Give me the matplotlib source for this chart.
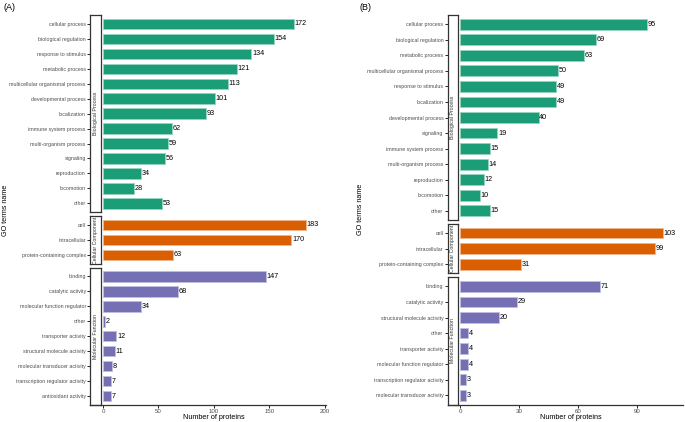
import numpy as np
import matplotlib.pyplot as plt
import matplotlib.colors as mcolors

plt.rcParams['font.family'] = ['Liberation Sans', 'DejaVu Sans']

# ---- data, chart (A)
a_bp_terms = ["cellular process", "biological regulation", "response to stimulus", "metabolic process",
              "multicellular organismal process", "developmental process", "localization",
              "immune system process", "multi-organism process", "signaling", "reproduction",
              "locomotion", "other"]
a_bp_counts = [172, 154, 134, 121, 113, 101, 93, 62, 59, 56, 34, 28, 53]
a_cc_terms = ["cell", "intracellular", "protein-containing complex"]
a_cc_counts = [183, 170, 63]
a_mf_terms = ["binding", "catalytic activity", "molecular function regulator", "other",
              "transporter activity", "structural molecule activity", "molecular transducer activity",
              "transcription regulator activity", "antioxidant activity"]
a_mf_counts = [147, 68, 34, 2, 12, 11, 8, 7, 7]
a_ticks = [0, 50, 100, 150, 200]

# ---- data, chart (B)
b_bp_terms = ["cellular process", "biological regulation", "metabolic process",
              "multicellular organismal process", "response to stimulus", "localization",
              "developmental process", "signaling", "immune system process", "multi-organism process",
              "reproduction", "locomotion", "other"]
b_bp_counts = [95, 69, 63, 50, 49, 49, 40, 19, 15, 14, 12, 10, 15]
b_cc_terms = ["cell", "intracellular", "protein-containing complex"]
b_cc_counts = [103, 99, 31]
b_mf_terms = ["binding", "catalytic activity", "structural molecule activity", "other",
              "transporter activity", "molecular function regulator",
              "transcription regulator activity", "molecular transducer activity"]
b_mf_counts = [71, 29, 20, 4, 4, 4, 3, 3]
b_ticks = [0, 30, 60, 90]

group_names = ["Biological Process", "Cellular Component", "Molecular Function"]
group_colors = ["#1B9E77", "#D95F02", "#7570B3"]

W, H = 685, 422
fig = plt.figure(figsize=(W / 100, H / 100), dpi=100)


def fbox(x0, y0, x1, y1):
    # pixel box (top-left origin) -> figure fraction rect
    return [x0 / W, 1 - y1 / H, (x1 - x0) / W, (y1 - y0) / H]


def lighten(c, f=0.55):
    r, g, b = mcolors.to_rgb(c)
    return (r + (1 - r) * f, g + (1 - g) * f, b + (1 - b) * f)


def draw_chart(groups, ticks, sx0, sx1, px1, top, bottom, tag, tag_x, ylab_x):
    gap = 3.7
    units = [len(t) - 1 + 1.2 for t, _ in groups]
    per = (bottom - top - gap * (len(groups) - 1)) / sum(units)
    vmax = max(max(c) for _, c in groups)
    xlim = (-0.01 * vmax, vmax * 1.1)
    y = top
    for gi, ((terms, counts), u) in enumerate(zip(groups, units)):
        h = u * per
        ax = fig.add_axes(fbox(sx1, y, px1, y + h))
        pos = np.arange(len(terms))
        col = group_colors[gi]
        ax.barh(pos, counts, height=0.7, color=col, edgecolor=lighten(col), linewidth=0.6)
        for p, c in zip(pos, counts):
            ax.text(c + vmax * 0.003, p, str(c), va='center', ha='left', fontsize=5.2, color='black')
        ax.set_xlim(*xlim)
        ax.set_ylim(len(terms) - 0.4, -0.6)
        ax.set_yticks([])
        for s in ax.spines.values():
            s.set_visible(False)
        if gi == len(groups) - 1:
            ax.set_xticks(ticks)
            ax.tick_params(axis='x', length=2.5, width=0.6, pad=0.6, labelsize=4.4, labelcolor='#4D4D4D')
        else:
            ax.set_xticks([])

        # strip box, carries the y tick labels on its left side
        st = fig.add_axes(fbox(sx0, y, sx1, y + h))
        st.set_xlim(0, 1)
        st.set_ylim(len(terms) - 0.4, -0.6)
        st.set_xticks([])
        st.set_yticks(pos)
        st.set_yticklabels(terms)
        st.tick_params(axis='y', length=2, width=0.6, pad=1, labelsize=3.8, labelcolor='#4D4D4D')
        for s in st.spines.values():
            s.set_linewidth(0.9)
            s.set_color('#333333')
        st.text(0.5, 0.5, group_names[gi], rotation=90, ha='center', va='center',
                fontsize=3.8, color='#333333', transform=st.transAxes)
        y += h + gap

    # x axis line running under the strips as well
    fig.add_artist(plt.Line2D([sx0 / W, px1 / W], [1 - bottom / H, 1 - bottom / H],
                              color='#333333', linewidth=0.9))
    fig.text((sx1 + px1) / 2 / W, 1 - 417.5 / H, "Number of proteins", fontsize=5.2,
             ha='center', va='center')
    fig.text(tag_x / W, 1 - 7 / H, tag, fontsize=6.5, ha='left', va='center')
    fig.text(ylab_x / W, 1 - (top + bottom) / 2 / H, "GO terms name", rotation=90,
             fontsize=5.2, ha='center', va='center')


draw_chart([(a_bp_terms, a_bp_counts), (a_cc_terms, a_cc_counts), (a_mf_terms, a_mf_counts)],
           a_ticks, 90, 101, 326, 15, 405, "(A)", 3, 6)
draw_chart([(b_bp_terms, b_bp_counts), (b_cc_terms, b_cc_counts), (b_mf_terms, b_mf_counts)],
           b_ticks, 447.5, 458, 683, 15, 404.5, "(B)", 360, 361)

fig.savefig("out.png", dpi=100)
